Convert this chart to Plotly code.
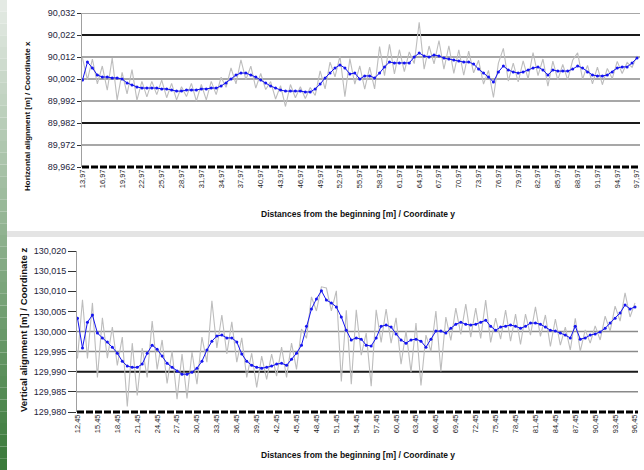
import plotly.graph_objects as go

# ---- Horizontal alignment (coordinate x): smoothed line and raw deviations ----
smooth_top = [
    90.0015, 90.0097, 90.0070, 90.0038, 90.0029, 90.0029, 90.0025, 90.0025, 90.0020, 90.0002,
    89.9993, 89.9984, 89.9979, 89.9979, 89.9979, 89.9979, 89.9975, 89.9975, 89.9970, 89.9965,
    89.9965, 89.9970, 89.9970, 89.9970, 89.9975, 89.9975, 89.9979, 89.9979, 89.9988, 90.0002,
    90.0020, 90.0038, 90.0047, 90.0047, 90.0038, 90.0029, 90.0015, 90.0002, 89.9988, 89.9979,
    89.9970, 89.9965, 89.9965, 89.9965, 89.9965, 89.9961, 89.9961, 89.9975, 89.9997, 90.0025,
    90.0047, 90.0070, 90.0084, 90.0070, 90.0043, 90.0047, 90.0020, 90.0034, 90.0034, 90.0025,
    90.0047, 90.0075, 90.0097, 90.0093, 90.0093, 90.0093, 90.0093, 90.0120, 90.0138, 90.0125,
    90.0120, 90.0129, 90.0125, 90.0115, 90.0111, 90.0106, 90.0102, 90.0097, 90.0097, 90.0088,
    90.0065, 90.0047, 90.0029, 90.0006, 90.0052, 90.0079, 90.0061, 90.0052, 90.0047, 90.0052,
    90.0061, 90.0070, 90.0075, 90.0061, 90.0038, 90.0061, 90.0056, 90.0056, 90.0056, 90.0065,
    90.0079, 90.0070, 90.0052, 90.0038, 90.0034, 90.0034, 90.0038, 90.0052, 90.0070, 90.0075,
    90.0075, 90.0093, 90.0115,
]
dev_top_mm = [
    10, -8, 4, -4, 5, -6, 9, -10, 3, -5,
    7, -6, 3, -4, 3, -3, 4, -4, 3, -4,
    2, -3, 3, -5, 2, -5, 3, -3, 4, -2,
    5, -4, 6, -3, 4, -5, 3, -3, 2, -5,
    2, -7, 3, -3, 2, -3, 2, -3, 6, -5,
    5, -4, 4, -13, 7, -5, 6, -6, 4, -5,
    12, -4, 8, -5, 6, -4, 5, -3, 14, -6,
    5, -4, 7, -5, 6, -6, 5, -6, 5, -4,
    4, -5, 3, -7, 4, 8, -5, 4, -4, 5,
    -4, 7, -4, 5, -5, 4, -4, 3, -4, 4,
    6, -5, 3, -4, 4, -4, 3, -3, 3, -3,
    2, -2, 1,
]

# ---- Vertical alignment (coordinate z): smoothed line and raw deviations ----
smooth_bot = [
    130.0033, 129.9959, 130.0023, 130.0041, 129.9996, 129.9984, 129.9974, 129.9961, 129.9946, 129.9926,
    129.9914, 129.9911, 129.9911, 129.9919, 129.9946, 129.9966, 129.9956, 129.9939, 129.9921, 129.9911,
    129.9902, 129.9894, 129.9894, 129.9899, 129.9909, 129.9926, 129.9954, 129.9976, 129.9989, 129.9991,
    129.9984, 129.9984, 129.9974, 129.9944, 129.9926, 129.9916, 129.9911, 129.9909, 129.9911, 129.9914,
    129.9919, 129.9921, 129.9916, 129.9931, 129.9946, 129.9966, 130.0013, 130.0056, 130.0081, 130.0101,
    130.0078, 130.0071, 130.0061, 130.0036, 130.0003, 129.9979, 129.9984, 129.9981, 129.9966, 129.9964,
    129.9984, 130.0013, 130.0016, 130.0011, 129.9994, 129.9979, 129.9971, 129.9979, 129.9981, 129.9976,
    129.9961, 129.9981, 130.0001, 130.0001, 129.9996, 130.0008, 130.0018, 130.0023, 130.0018, 130.0016,
    130.0018, 130.0023, 130.0028, 130.0013, 130.0003, 130.0011, 130.0013, 130.0016, 130.0013, 130.0008,
    130.0013, 130.0021, 130.0021, 130.0018, 130.0011, 130.0003, 130.0001, 129.9996, 129.9991, 129.9984,
    130.0013, 129.9981, 129.9984, 129.9991, 129.9994, 129.9999, 130.0008, 130.0021, 130.0033, 130.0046,
    130.0066, 130.0056, 130.0061,
]
dev_bot_mm = [
    -10, 12, -9, 3, -11, 5, -4, 5, -3, 6,
    -10, 6, -7, 4, -6, 6, -5, 4, -5, 4,
    -7, 5, -6, 5, -4, 6, -3, 10, -3, 5,
    -4, 4, -5, 4, -4, 3, -5, 3, -3, 3,
    -3, 4, -3, 4, -4, 4, -3, 3, -3, 1,
    3, -2, 4, -16, 5, -11, 7, -4, 3, -10,
    7, -4, 4, -4, 4, -6, 3, -8, 4, -11,
    3, -3, 5, -10, 4, -3, 4, -3, 5, -3,
    4, -4, 5, -4, 3, -3, 4, -4, 3, -4,
    3, -3, 4, -3, 3, -4, 3, -3, 2, -3,
    2, -3, 2, -2, 2, -2, 3, -2, 3, -2,
    3, -2, 1,
]

# Stations (chainage in m) and axis ticks
start_top, step_top = 13.97, 0.75
start_bot, step_bot = 12.45, 0.75
label_every = 4

yticks_top = [89.962, 89.972, 89.982, 89.992, 90.002, 90.012, 90.022, 90.032]
grid_top = [89.972, 89.992, 90.002, 90.012, 90.032]
dark_grid_top = [89.982, 90.022]

yticks_bot = [129.980, 129.985, 129.990, 129.995, 130.000, 130.005, 130.010, 130.015, 130.020]
grid_bot = [129.985, 129.995, 130.000]
dark_grid_bot = [129.990]

chain_top = [round(start_top + step_top * i, 2) for i in range(len(smooth_top))]
chain_bot = [round(start_bot + step_bot * i, 2) for i in range(len(smooth_bot))]
raw_top = [s + d / 1000 for s, d in zip(smooth_top, dev_top_mm)]
raw_bot = [s + d / 1000 for s, d in zip(smooth_bot, dev_bot_mm)]

W, H = 644, 470
GRAY = "#bdbdbd"
BLUE = "#1414f0"
FONT = "Liberation Sans, Arial, sans-serif"

fig = go.Figure()
fig.add_trace(go.Scatter(x=chain_top, y=raw_top, mode="lines",
                         line=dict(color=GRAY, width=1.1), xaxis="x", yaxis="y", showlegend=False))
fig.add_trace(go.Scatter(x=chain_top, y=smooth_top, mode="lines+markers",
                         line=dict(color=BLUE, width=1), marker=dict(size=3, color=BLUE),
                         xaxis="x", yaxis="y", showlegend=False))
fig.add_trace(go.Scatter(x=chain_bot, y=raw_bot, mode="lines",
                         line=dict(color=GRAY, width=1.1), xaxis="x2", yaxis="y2", showlegend=False))
fig.add_trace(go.Scatter(x=chain_bot, y=smooth_bot, mode="lines+markers",
                         line=dict(color=BLUE, width=1), marker=dict(size=3, color=BLUE),
                         xaxis="x2", yaxis="y2", showlegend=False))


def px_x(p):
    return p / W


def px_y(p):
    return 1 - p / H


def xaxis_cfg(chain, step, left, right, anchor):
    return dict(
        domain=[px_x(left), px_x(right)],
        anchor=anchor,
        automargin=False,
        range=[chain[0] - 0.1 * step, chain[-1] + 0.6 * step],
        tickvals=chain[::label_every],
        tickformat=".2f",
        tickangle=-90,
        tickfont=dict(size=7.5, color="#222", family=FONT),
        ticks="",
        showgrid=False,
        zeroline=False,
        showline=False,
    )


def yaxis_cfg(ticks, top_px, bottom_px, anchor, ticklen):
    return dict(
        domain=[px_y(bottom_px), px_y(top_px)],
        anchor=anchor,
        automargin=False,
        range=[ticks[0], ticks[-1]],
        tickvals=ticks,
        tickformat=".3f",
        tickfont=dict(size=9, color="#1e1e3c", family=FONT),
        ticks="outside",
        ticklen=ticklen,
        tickcolor="#333",
        showgrid=False,
        zeroline=False,
        showline=True,
        linecolor="#a0a0a0",
        linewidth=1,
    )


shapes = []

# left green gradient strip and panel divider
n_band = 40
for k in range(n_band):
    t = k / (n_band - 1)
    r = int(228 + (58 - 228) * t)
    g = int(234 + (122 - 234) * t)
    b = int(228 + (58 - 228) * t)
    shapes.append(dict(type="rect", xref="paper", yref="paper",
                       x0=0, x1=px_x(7), y0=1 - (k + 1) / n_band, y1=1 - k / n_band,
                       fillcolor=f"rgb({r},{g},{b})", line=dict(width=0), layer="below"))
shapes.append(dict(type="rect", xref="paper", yref="paper",
                   x0=px_x(7), x1=1, y0=px_y(237), y1=px_y(231),
                   fillcolor="#e4e4e4", line=dict(width=0), layer="below"))

# horizontal grid lines
for v in grid_top:
    shapes.append(dict(type="line", xref="x domain", yref="y", x0=0, x1=1, y0=v, y1=v,
                       line=dict(color="#8a8a8a", width=1.5), layer="below"))
for v in dark_grid_top:
    shapes.append(dict(type="line", xref="x domain", yref="y", x0=0, x1=1, y0=v, y1=v,
                       line=dict(color="#1a1a1a", width=2.2), layer="below"))
for v in grid_bot:
    shapes.append(dict(type="line", xref="x2 domain", yref="y2", x0=0, x1=1, y0=v, y1=v,
                       line=dict(color="#8a8a8a", width=1.5), layer="below"))
for v in dark_grid_bot:
    shapes.append(dict(type="line", xref="x2 domain", yref="y2", x0=0, x1=1, y0=v, y1=v,
                       line=dict(color="#1a1a1a", width=2.2), layer="below"))

# category-style x axis (dense black tick band)
for xa, ya in (("x", "y"), ("x2", "y2")):
    shapes.append(dict(type="line", xref=f"{xa} domain", yref=f"{ya} domain",
                       x0=0, x1=1, y0=0, y1=0,
                       line=dict(color="#000", width=3, dash="7px,2px")))

title_font = dict(size=8.5, color="#111", family=FONT)
annotations = [
    dict(text="<b>Distances from the beginning [m] / Coordinate y</b>", xref="paper", yref="paper",
         x=px_x(358), y=px_y(214), xanchor="center", yanchor="middle",
         showarrow=False, font=title_font),
    dict(text="<b>Distances from the beginning [m] / Coordinate y</b>", xref="paper", yref="paper",
         x=px_x(358), y=px_y(455), xanchor="center", yanchor="middle",
         showarrow=False, font=title_font),
    dict(text="<b>Horizontal alignment [m] / Coordinate x</b>", xref="paper", yref="paper",
         x=px_x(27), y=px_y(116), xanchor="center", yanchor="middle", textangle=-90,
         showarrow=False, font=dict(size=8, color="#111", family=FONT)),
    dict(text="<b>Vertical alignment [m] / Coordinate z</b>", xref="paper", yref="paper",
         x=px_x(23), y=px_y(330), xanchor="center", yanchor="middle", textangle=-90,
         showarrow=False, font=dict(size=9.5, color="#111", family=FONT)),
]

fig.update_layout(
    width=W, height=H,
    margin=dict(l=0, r=0, t=0, b=0, autoexpand=False),
    paper_bgcolor="white",
    plot_bgcolor="white",
    separators=", ",
    xaxis=xaxis_cfg(chain_top, step_top, 82, 640, "y"),
    yaxis=yaxis_cfg(yticks_top, 13, 167, "x", 4),
    xaxis2=xaxis_cfg(chain_bot, step_bot, 77, 638, "y2"),
    yaxis2=yaxis_cfg(yticks_bot, 251, 412, "x2", 8),
    shapes=shapes,
    annotations=annotations,
)

fig.write_html("out.html")
